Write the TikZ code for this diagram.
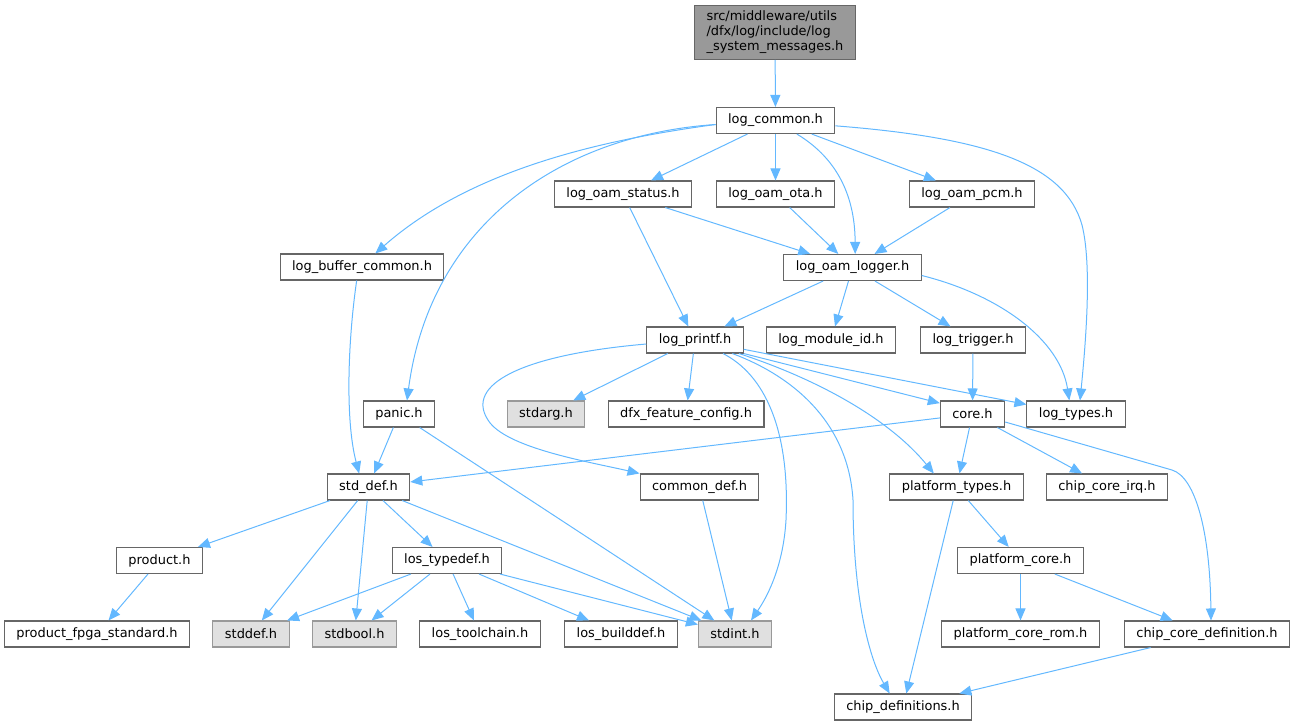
\documentclass[tikz,border=0pt]{standalone}
\usepackage{fontspec}
\setmainfont{DejaVu Sans}
\usepackage{tikz}
\usetikzlibrary{arrows.meta}
\definecolor{edgeblue}{HTML}{63B8FF}
\definecolor{nodegray}{HTML}{666666}
\definecolor{sysgray}{HTML}{999999}
\definecolor{sysfill}{HTML}{E0E0E0}
\definecolor{rootfill}{HTML}{999999}

\begin{document}
\begin{tikzpicture}[x=0.75pt, y=-0.75pt,
    hdr/.style={draw=nodegray, fill=white, line width=0.8pt, inner xsep=9pt,
      minimum height=19.5pt, font=\fontsize{9.7}{11.25}\selectfont},
    syshdr/.style={hdr, draw=sysgray, fill=sysfill},
    dep/.style={draw=edgeblue, line width=0.75pt, -{Triangle[length=9pt, width=7.5pt]}}]
    \useasboundingbox (0, 0) rectangle (1295, 725);

    % Headers
    \node [hdr, fill=rootfill, align=left, inner ysep=4pt] (rootfile) at (775, 32.5)
      {src/middleware/utils\\/dfx/log/include/log\\\_system\_messages.h};
    \node [hdr] (logcommon) at (775.5, 120.5) {log\_common.h};
    \node [hdr] (oamstatus) at (623, 194) {log\_oam\_status.h};
    \node [hdr] (oamota) at (775.5, 194) {log\_oam\_ota.h};
    \node [hdr] (oampcm) at (972, 194) {log\_oam\_pcm.h};
    \node [hdr] (bufcommon) at (362, 267) {log\_buffer\_common.h};
    \node [hdr] (oamlogger) at (852.5, 267.5) {log\_oam\_logger.h};
    \node [hdr] (logprintf) at (695, 340) {log\_printf.h};
    \node [hdr] (moduleid) at (831, 340) {log\_module\_id.h};
    \node [hdr] (logtrigger) at (973, 340) {log\_trigger.h};
    \node [hdr] (panic) at (399, 414) {panic.h};
    \node [syshdr] (cstdarg) at (546, 414) {stdarg.h};
    \node [hdr] (dfxconfig) at (686, 414) {dfx\_feature\_config.h};
    \node [hdr] (core) at (972.5, 414) {core.h};
    \node [hdr] (logtypes) at (1076, 414) {log\_types.h};
    \node [hdr] (stddef) at (368.5, 487) {std\_def.h};
    \node [hdr] (commondef) at (699.5, 487) {common\_def.h};
    \node [hdr] (platformtypes) at (956.5, 487) {platform\_types.h};
    \node [hdr] (coreirq) at (1107, 487) {chip\_core\_irq.h};
    \node [hdr] (product) at (159.5, 560.5) {product.h};
    \node [hdr] (lostypedef) at (447, 560.5) {los\_typedef.h};
    \node [hdr] (platformcore) at (1020.5, 560.5) {platform\_core.h};
    \node [hdr] (fpgastd) at (97, 634) {product\_fpga\_standard.h};
    \node [syshdr] (cstddef) at (251, 634) {stddef.h};
    \node [syshdr] (cstdbool) at (354.5, 634) {stdbool.h};
    \node [hdr] (toolchain) at (480, 634) {los\_toolchain.h};
    \node [hdr] (builddef) at (621, 634) {los\_builddef.h};
    \node [syshdr] (cstdint) at (735, 634) {stdint.h};
    \node [hdr] (corerom) at (1020.5, 634) {platform\_core\_rom.h};
    \node [hdr] (coredefinition) at (1207, 634) {chip\_core\_definition.h};
    \node [hdr] (chipdefs) at (903, 707) {chip\_definitions.h};

    % Straight includes
    \draw [dep] (rootfile) -- (logcommon);
    \draw [dep] (logcommon) -- (oamstatus);
    \draw [dep] (logcommon) -- (oamota);
    \draw [dep] (logcommon) -- (oampcm);
    \draw [dep] (oamstatus) -- (oamlogger);
    \draw [dep] (oamstatus) -- (logprintf);
    \draw [dep] (oamota) -- (oamlogger);
    \draw [dep] (oampcm) -- (oamlogger);
    \draw [dep] (oamlogger) -- (logprintf);
    \draw [dep] (oamlogger) -- (moduleid);
    \draw [dep] (oamlogger) -- (logtrigger);
    \draw [dep] (logprintf) -- (cstdarg);
    \draw [dep] (logprintf) -- (dfxconfig);
    \draw [dep] (logprintf.south east) -- ([yshift=-2pt]core.north west);
    \draw [dep] ([yshift=-7pt]logprintf.east) -- ([yshift=-3pt]logtypes.north west);
    \draw [dep] (logtrigger) -- (core);
    \draw [dep] (panic) -- (stddef);
    \draw [dep] (panic) -- (cstdint);
    \draw [dep] (core) -- (stddef);
    \draw [dep] (core) -- (platformtypes);
    \draw [dep] (core) -- (coreirq);
    \draw [dep] (stddef) -- (product);
    \draw [dep] (stddef) -- (cstddef);
    \draw [dep] (stddef) -- (cstdbool);
    \draw [dep] (stddef) -- (lostypedef);
    \draw [dep] (stddef) -- (cstdint);
    \draw [dep] (commondef) -- (cstdint);
    \draw [dep] (platformtypes) -- (platformcore);
    \draw [dep] (platformtypes) -- (chipdefs);
    \draw [dep] (product) -- (fpgastd);
    \draw [dep] (lostypedef) -- (cstddef);
    \draw [dep] (lostypedef) -- (cstdbool);
    \draw [dep] (lostypedef) -- (toolchain);
    \draw [dep] (lostypedef) -- (builddef);
    \draw [dep] (lostypedef) -- (cstdint);
    \draw [dep] (platformcore) -- (corerom);
    \draw [dep] (platformcore) -- (coredefinition);
    \draw [dep] (coredefinition) -- (chipdefs);

    % Curved includes
    \draw [dep] ([yshift=-3pt]logcommon.west) .. controls (600, 140) and (470, 170) .. ([xshift=10pt]bufcommon.north);
    \draw [dep] ([yshift=-3pt]logcommon.west) .. controls (560, 135) and (430, 225) .. ([xshift=6pt]panic.north);
    \draw [dep] ([xshift=16pt]logcommon.south) .. controls (840, 160) and (855, 200) .. ([xshift=2pt]oamlogger.north);
    \draw [dep] ([yshift=-4pt]logcommon.east) .. controls (990, 138) and (1065, 165) .. (1082, 225)
      .. controls (1092, 265) and (1086, 340) .. ([xshift=3pt]logtypes.north);
    \draw [dep] ([yshift=-6pt]oamlogger.east) .. controls (1000, 295) and (1060, 340) .. ([xshift=-5pt]logtypes.north);
    \draw [dep] ([xshift=-4pt]bufcommon.south) .. controls (348, 340) and (345, 420) .. ([xshift=-7pt]stddef.north);
    \draw [dep] ([yshift=-3pt]logprintf.west) .. controls (520, 355) and (465, 385) .. (488, 420)
      .. controls (505, 448) and (590, 462) .. (commondef.north west);
    \draw [dep] ([xshift=21pt]logprintf.south) .. controls (765, 375) and (790, 430) .. (786, 520)
      .. controls (783, 570) and (765, 600) .. ([xshift=12pt]cstdint.north);
    \draw [dep] ([xshift=28pt]logprintf.south) .. controls (790, 375) and (848, 420) .. (853, 500)
      .. controls (853, 600) and (870, 660) .. ([xshift=-10pt]chipdefs.north);
    \draw [dep] ([xshift=33pt]logprintf.south) .. controls (820, 380) and (890, 420) .. ([xshift=-17pt]platformtypes.north);
    \draw [dep] ([yshift=-6pt]core.east) -- (1172, 470) .. controls (1195, 477) and (1210, 530) .. ([xshift=3pt]coredefinition.north);
\end{tikzpicture}
\end{document}
